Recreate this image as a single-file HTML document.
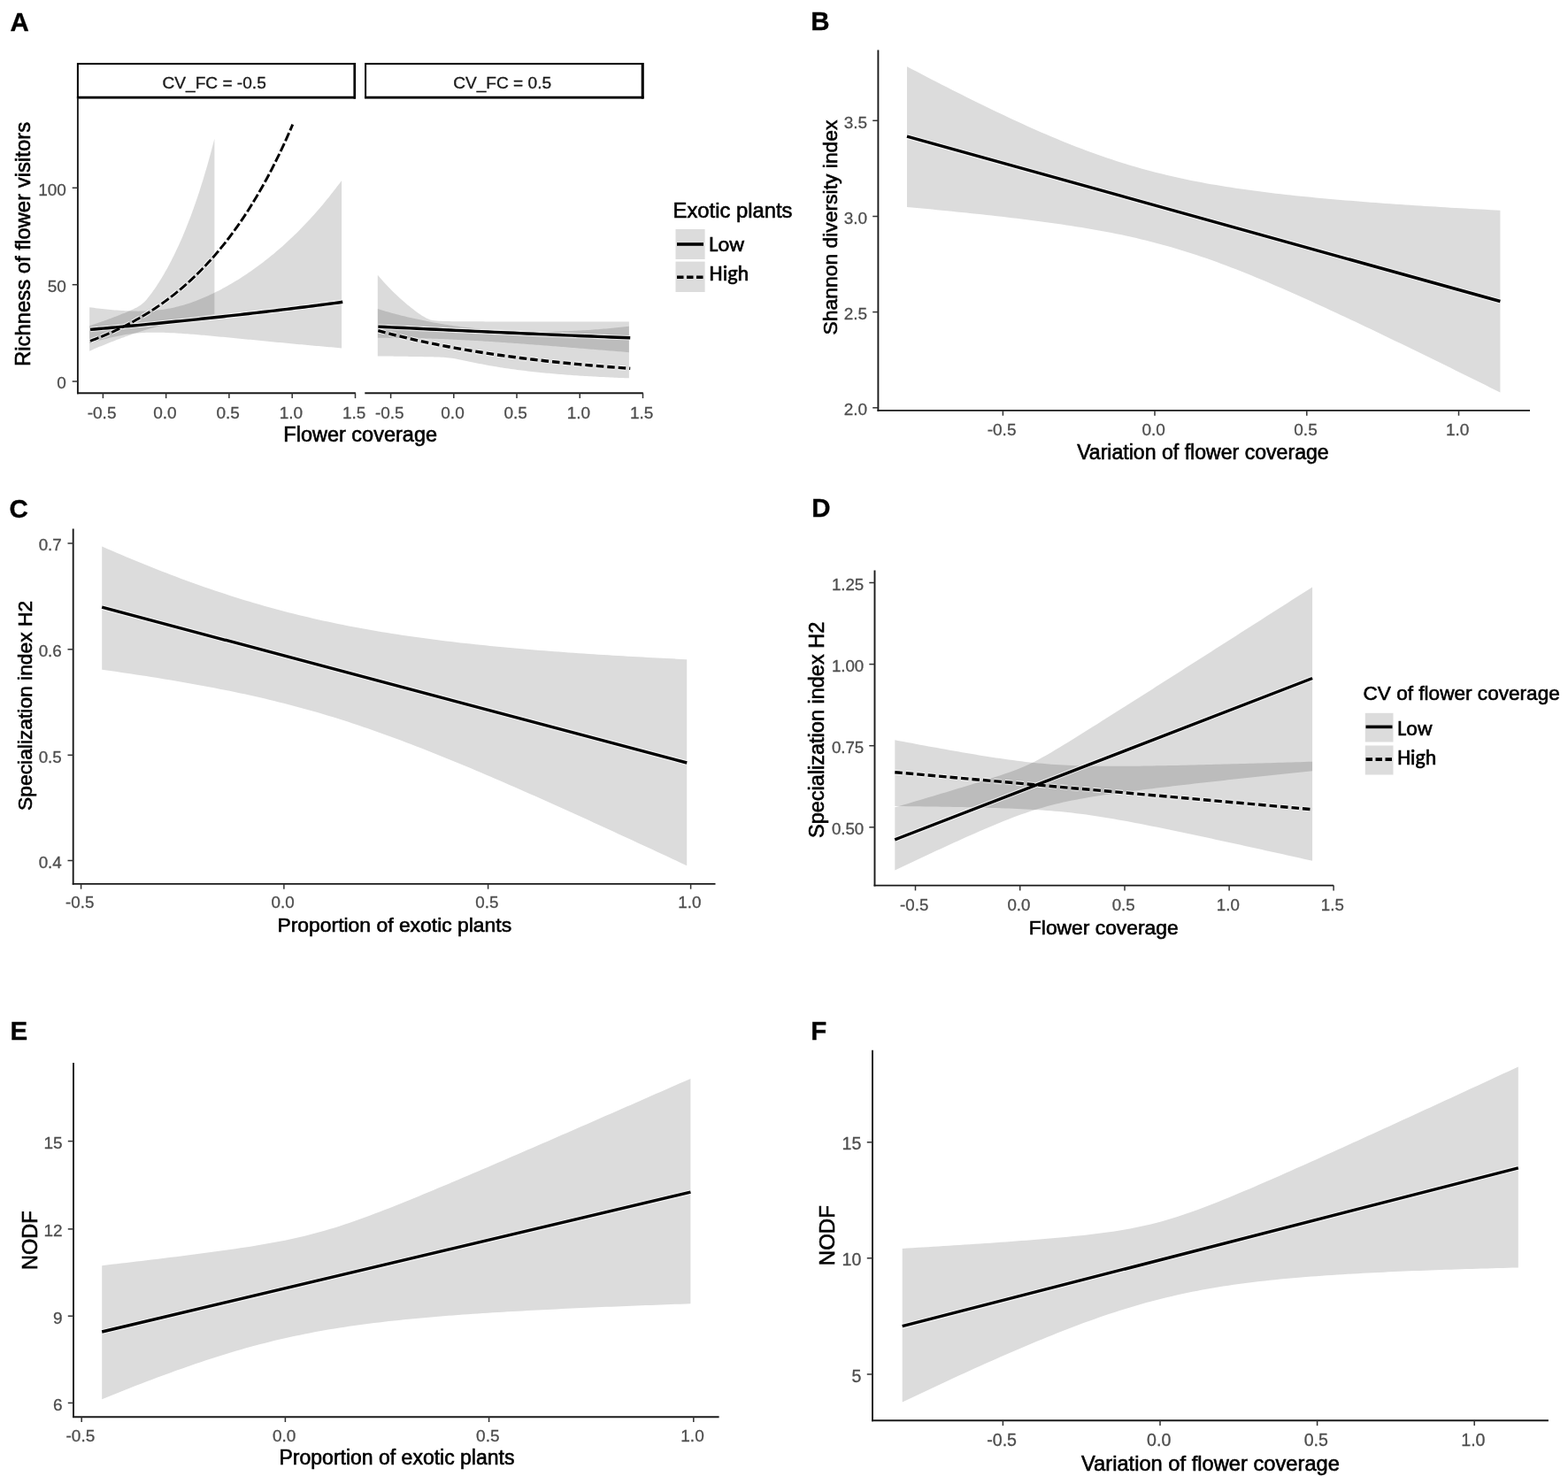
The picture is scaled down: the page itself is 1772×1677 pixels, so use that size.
<!DOCTYPE html>
<html><head><meta charset="utf-8"><title>Figure</title>
<style>html,body{margin:0;padding:0;background:#fff;} svg{display:block;}</style></head>
<body>
<svg width="1772" height="1677" viewBox="0 0 1772 1677">
<rect width="1772" height="1677" fill="#fff"/>
<text x="11.5" y="34.7" text-anchor="start" font-family="'Liberation Sans', Arial, Helvetica, sans-serif" font-size="29.5" fill="#000" font-weight="bold" stroke="#000" stroke-width="0.3">A</text>
<rect x="87.9" y="72.1" width="312.9" height="38.1" fill="#fff" stroke="#000" stroke-width="2"/>
<text x="242.15" y="100.1" text-anchor="middle" font-family="'Liberation Sans', Arial, Helvetica, sans-serif" font-size="19.1" fill="#1a1a1a" stroke="#1a1a1a" stroke-width="0.35">CV_FC = -0.5</text>
<rect x="413.1" y="72.1" width="313.5" height="38.1" fill="#fff" stroke="#000" stroke-width="2"/>
<text x="567.65" y="100.1" text-anchor="middle" font-family="'Liberation Sans', Arial, Helvetica, sans-serif" font-size="19.1" fill="#1a1a1a" stroke="#1a1a1a" stroke-width="0.35">CV_FC = 0.5</text>
<line x1="86.9" y1="110.2" x2="401.9" y2="110.2" stroke="#000" stroke-width="2.8"/>
<line x1="412.1" y1="110.2" x2="727.6" y2="110.2" stroke="#000" stroke-width="2.8"/>
<line x1="400.8" y1="71.1" x2="400.8" y2="111.6" stroke="#000" stroke-width="2.6"/>
<line x1="726.1" y1="71.1" x2="726.1" y2="111.6" stroke="#000" stroke-width="2.8"/>
<polygon points="101.1,347.25 103.49,347.57 105.89,347.87 108.28,348.17 110.68,348.45 113.07,348.73 115.47,349 117.86,349.26 120.26,349.51 122.65,349.75 125.05,349.98 127.44,350.2 129.84,350.4 132.23,350.6 134.63,350.78 137.02,350.94 139.42,351.09 141.81,351.22 144.21,351.34 146.6,351.44 149,351.52 151.39,351.57 153.79,351.61 156.18,351.63 158.58,351.62 160.97,351.59 163.37,351.53 165.76,351.45 168.16,351.34 170.55,351.19 172.95,351.02 175.34,350.82 177.74,350.58 180.13,350.31 182.53,350 184.92,349.66 187.32,349.28 189.71,348.87 192.11,348.42 194.5,347.93 196.9,347.4 199.29,346.84 201.69,346.24 204.08,345.61 206.48,344.93 208.87,344.23 211.27,343.48 213.66,342.7 216.06,341.89 218.45,341.04 220.85,340.16 223.24,339.25 225.64,338.3 228.03,337.32 230.43,336.31 232.82,335.27 235.22,334.2 237.61,333.1 240.01,331.97 242.4,330.81 244.8,329.62 247.19,328.4 249.59,327.15 251.98,325.87 254.38,324.57 256.77,323.24 259.17,321.87 261.56,320.48 263.96,319.07 266.35,317.62 268.75,316.15 271.14,314.64 273.54,313.11 275.93,311.55 278.33,309.97 280.72,308.35 283.12,306.7 285.51,305.03 287.91,303.32 290.3,301.59 292.7,299.83 295.09,298.03 297.49,296.21 299.88,294.36 302.28,292.47 304.67,290.55 307.07,288.61 309.46,286.63 311.86,284.62 314.25,282.57 316.65,280.49 319.04,278.38 321.44,276.24 323.83,274.06 326.23,271.85 328.62,269.6 331.02,267.32 333.41,265 335.81,262.64 338.2,260.25 340.6,257.82 342.99,255.36 345.39,252.85 347.78,250.31 350.18,247.73 352.57,245.1 354.97,242.44 357.36,239.74 359.76,236.99 362.15,234.21 364.55,231.38 366.94,228.5 369.34,225.59 371.73,222.63 374.13,219.62 376.52,216.57 378.92,213.47 381.31,210.33 383.71,207.14 386.1,203.9 386.1,393.39 383.71,393.19 381.31,392.98 378.92,392.78 376.52,392.57 374.13,392.36 371.73,392.15 369.34,391.94 366.94,391.73 364.55,391.52 362.15,391.31 359.76,391.09 357.36,390.88 354.97,390.66 352.57,390.45 350.18,390.23 347.78,390.01 345.39,389.79 342.99,389.57 340.6,389.35 338.2,389.13 335.81,388.91 333.41,388.69 331.02,388.46 328.62,388.24 326.23,388.01 323.83,387.79 321.44,387.56 319.04,387.34 316.65,387.11 314.25,386.88 311.86,386.65 309.46,386.42 307.07,386.19 304.67,385.96 302.28,385.73 299.88,385.5 297.49,385.27 295.09,385.03 292.7,384.8 290.3,384.57 287.91,384.34 285.51,384.1 283.12,383.87 280.72,383.64 278.33,383.4 275.93,383.17 273.54,382.94 271.14,382.7 268.75,382.47 266.35,382.24 263.96,382 261.56,381.77 259.17,381.54 256.77,381.31 254.38,381.08 251.98,380.85 249.59,380.63 247.19,380.4 244.8,380.18 242.4,379.95 240.01,379.73 237.61,379.51 235.22,379.29 232.82,379.08 230.43,378.87 228.03,378.66 225.64,378.45 223.24,378.25 220.85,378.05 218.45,377.86 216.06,377.67 213.66,377.48 211.27,377.3 208.87,377.13 206.48,376.96 204.08,376.8 201.69,376.65 199.29,376.5 196.9,376.37 194.5,376.24 192.11,376.13 189.71,376.02 187.32,375.93 184.92,375.85 182.53,375.79 180.13,375.74 177.74,375.71 175.34,375.7 172.95,375.7 170.55,375.73 168.16,375.78 165.76,375.85 163.37,375.95 160.97,376.07 158.58,376.22 156.18,376.4 153.79,376.61 151.39,376.85 149,377.12 146.6,377.42 144.21,377.75 141.81,378.12 139.42,378.51 137.02,378.94 134.63,379.4 132.23,379.88 129.84,380.39 127.44,380.93 125.05,381.49 122.65,382.07 120.26,382.67 117.86,383.29 115.47,383.93 113.07,384.58 110.68,385.23 108.28,385.9 105.89,386.58 103.49,387.26 101.1,387.94" fill="#000000" fill-opacity="0.14"/>
<polygon points="101.1,368.16 102.29,367.77 103.47,367.38 104.66,366.99 105.85,366.59 107.04,366.2 108.22,365.79 109.41,365.39 110.6,364.99 111.79,364.58 112.97,364.17 114.16,363.75 115.35,363.34 116.54,362.92 117.72,362.5 118.91,362.07 120.1,361.64 121.29,361.21 122.47,360.78 123.66,360.34 124.85,359.9 126.04,359.46 127.22,359.01 128.41,358.57 129.6,358.11 130.78,357.66 131.97,357.2 133.16,356.74 134.35,356.27 135.53,355.8 136.72,355.32 137.91,354.85 139.1,354.36 140.28,353.88 141.47,353.38 142.66,352.88 143.85,352.38 145.03,351.87 146.22,351.35 147.41,350.83 148.6,350.29 149.78,349.74 150.97,349.18 152.16,348.61 153.35,348.01 154.53,347.39 155.72,346.73 156.91,346.03 158.09,345.27 159.28,344.45 160.47,343.53 161.66,342.51 162.84,341.39 164.03,340.18 165.22,338.88 166.41,337.5 167.59,336.06 168.78,334.56 169.97,333.01 171.16,331.42 172.34,329.79 173.53,328.12 174.72,326.41 175.91,324.67 177.09,322.89 178.28,321.07 179.47,319.22 180.66,317.33 181.84,315.41 183.03,313.45 184.22,311.46 185.41,309.43 186.59,307.37 187.78,305.27 188.97,303.13 190.15,300.95 191.34,298.74 192.53,296.48 193.72,294.19 194.9,291.86 196.09,289.48 197.28,287.07 198.47,284.61 199.65,282.11 200.84,279.57 202.03,276.98 203.22,274.35 204.4,271.67 205.59,268.95 206.78,266.18 207.97,263.36 209.15,260.49 210.34,257.57 211.53,254.61 212.72,251.59 213.9,248.52 215.09,245.4 216.28,242.22 217.46,238.99 218.65,235.7 219.84,232.36 221.03,228.96 222.21,225.5 223.4,221.98 224.59,218.4 225.78,214.76 226.96,211.06 228.15,207.29 229.34,203.46 230.53,199.56 231.71,195.6 232.9,191.56 234.09,187.46 235.28,183.29 236.46,179.05 237.65,174.73 238.84,170.34 240.03,165.87 241.21,161.33 242.4,156.71 242.4,355.14 241.21,355.33 240.03,355.51 238.84,355.7 237.65,355.89 236.46,356.08 235.28,356.27 234.09,356.47 232.9,356.67 231.71,356.87 230.53,357.08 229.34,357.29 228.15,357.5 226.96,357.71 225.78,357.92 224.59,358.14 223.4,358.36 222.21,358.58 221.03,358.81 219.84,359.04 218.65,359.27 217.46,359.5 216.28,359.73 215.09,359.97 213.9,360.21 212.72,360.46 211.53,360.71 210.34,360.95 209.15,361.21 207.97,361.46 206.78,361.72 205.59,361.98 204.4,362.24 203.22,362.51 202.03,362.78 200.84,363.05 199.65,363.33 198.47,363.6 197.28,363.89 196.09,364.17 194.9,364.46 193.72,364.75 192.53,365.04 191.34,365.33 190.15,365.63 188.97,365.93 187.78,366.24 186.59,366.55 185.41,366.86 184.22,367.17 183.03,367.49 181.84,367.81 180.66,368.13 179.47,368.45 178.28,368.78 177.09,369.12 175.91,369.45 174.72,369.79 173.53,370.13 172.34,370.47 171.16,370.82 169.97,371.17 168.78,371.53 167.59,371.88 166.41,372.24 165.22,372.61 164.03,372.97 162.84,373.34 161.66,373.72 160.47,374.09 159.28,374.47 158.09,374.85 156.91,375.24 155.72,375.63 154.53,376.02 153.35,376.41 152.16,376.81 150.97,377.21 149.78,377.62 148.6,378.02 147.41,378.43 146.22,378.85 145.03,379.26 143.85,379.68 142.66,380.11 141.47,380.53 140.28,380.96 139.1,381.39 137.91,381.83 136.72,382.27 135.53,382.71 134.35,383.15 133.16,383.6 131.97,384.05 130.78,384.5 129.6,384.96 128.41,385.42 127.22,385.88 126.04,386.34 124.85,386.81 123.66,387.28 122.47,387.75 121.29,388.23 120.1,388.7 118.91,389.18 117.72,389.67 116.54,390.15 115.35,390.64 114.16,391.13 112.97,391.62 111.79,392.11 110.6,392.61 109.41,393.11 108.22,393.61 107.04,394.11 105.85,394.62 104.66,395.13 103.47,395.64 102.29,396.15 101.1,396.66" fill="#000000" fill-opacity="0.14"/>
<polyline points="102.12,372.41 106.95,371.99 111.78,371.56 116.62,371.13 121.45,370.7 126.28,370.26 131.11,369.82 135.95,369.37 140.78,368.93 145.61,368.48 150.44,368.03 155.27,367.57 160.11,367.11 164.94,366.65 169.77,366.18 174.6,365.71 179.44,365.24 184.27,364.76 189.1,364.28 193.93,363.8 198.76,363.31 203.6,362.82 208.43,362.33 213.26,361.83 218.09,361.33 222.93,360.82 227.76,360.31 232.59,359.8 237.42,359.28 242.25,358.77 247.09,358.24 251.92,357.71 256.75,357.18 261.58,356.65 266.41,356.11 271.25,355.57 276.08,355.02 280.91,354.47 285.74,353.92 290.58,353.36 295.41,352.79 300.24,352.23 305.07,351.66 309.9,351.08 314.74,350.5 319.57,349.92 324.4,349.33 329.23,348.74 334.07,348.14 338.9,347.54 343.73,346.94 348.56,346.33 353.39,345.72 358.23,345.1 363.06,344.48 367.89,343.85 372.72,343.22 377.56,342.58 382.39,341.94 387.22,341.29" fill="none" stroke="#fff" stroke-opacity="0.7" stroke-width="5.6" stroke-linejoin="round"/>
<polyline points="102.12,385.28 105.01,384.2 107.91,383.09 110.8,381.96 113.7,380.79 116.59,379.61 119.49,378.39 122.38,377.14 125.27,375.87 128.17,374.56 131.06,373.23 133.96,371.86 136.85,370.46 139.75,369.02 142.64,367.56 145.53,366.06 148.43,364.52 151.32,362.94 154.22,361.33 157.11,359.68 160.01,357.99 162.9,356.27 165.79,354.5 168.69,352.69 171.58,350.83 174.48,348.93 177.37,346.99 180.27,345 183.16,342.97 186.05,340.88 188.95,338.75 191.84,336.56 194.74,334.33 197.63,332.04 200.53,329.7 203.42,327.3 206.32,324.84 209.21,322.33 212.1,319.75 215,317.12 217.89,314.42 220.79,311.66 223.68,308.84 226.58,305.95 229.47,302.99 232.36,299.96 235.26,296.85 238.15,293.68 241.05,290.43 243.94,287.1 246.84,283.69 249.73,280.2 252.62,276.63 255.52,272.98 258.41,269.24 261.31,265.41 264.2,261.49 267.1,257.47 269.99,253.36 272.88,249.16 275.78,244.85 278.67,240.45 281.57,235.93 284.46,231.32 287.36,226.59 290.25,221.75 293.14,216.79 296.04,211.72 298.93,206.53 301.83,201.22 304.72,195.78 307.62,190.21 310.51,184.51 313.4,178.67 316.3,172.7 319.19,166.58 322.09,160.32 324.98,153.91 327.88,147.35 330.77,140.63" fill="none" stroke="#fff" stroke-opacity="0.7" stroke-width="5.1" stroke-linejoin="round" stroke-dasharray="10 3"/>
<polyline points="102.12,372.41 106.95,371.99 111.78,371.56 116.62,371.13 121.45,370.7 126.28,370.26 131.11,369.82 135.95,369.37 140.78,368.93 145.61,368.48 150.44,368.03 155.27,367.57 160.11,367.11 164.94,366.65 169.77,366.18 174.6,365.71 179.44,365.24 184.27,364.76 189.1,364.28 193.93,363.8 198.76,363.31 203.6,362.82 208.43,362.33 213.26,361.83 218.09,361.33 222.93,360.82 227.76,360.31 232.59,359.8 237.42,359.28 242.25,358.77 247.09,358.24 251.92,357.71 256.75,357.18 261.58,356.65 266.41,356.11 271.25,355.57 276.08,355.02 280.91,354.47 285.74,353.92 290.58,353.36 295.41,352.79 300.24,352.23 305.07,351.66 309.9,351.08 314.74,350.5 319.57,349.92 324.4,349.33 329.23,348.74 334.07,348.14 338.9,347.54 343.73,346.94 348.56,346.33 353.39,345.72 358.23,345.1 363.06,344.48 367.89,343.85 372.72,343.22 377.56,342.58 382.39,341.94 387.22,341.29" fill="none" stroke="#000" stroke-width="3.4" stroke-linejoin="round"/>
<polyline points="102.12,385.28 105.01,384.2 107.91,383.09 110.8,381.96 113.7,380.79 116.59,379.61 119.49,378.39 122.38,377.14 125.27,375.87 128.17,374.56 131.06,373.23 133.96,371.86 136.85,370.46 139.75,369.02 142.64,367.56 145.53,366.06 148.43,364.52 151.32,362.94 154.22,361.33 157.11,359.68 160.01,357.99 162.9,356.27 165.79,354.5 168.69,352.69 171.58,350.83 174.48,348.93 177.37,346.99 180.27,345 183.16,342.97 186.05,340.88 188.95,338.75 191.84,336.56 194.74,334.33 197.63,332.04 200.53,329.7 203.42,327.3 206.32,324.84 209.21,322.33 212.1,319.75 215,317.12 217.89,314.42 220.79,311.66 223.68,308.84 226.58,305.95 229.47,302.99 232.36,299.96 235.26,296.85 238.15,293.68 241.05,290.43 243.94,287.1 246.84,283.69 249.73,280.2 252.62,276.63 255.52,272.98 258.41,269.24 261.31,265.41 264.2,261.49 267.1,257.47 269.99,253.36 272.88,249.16 275.78,244.85 278.67,240.45 281.57,235.93 284.46,231.32 287.36,226.59 290.25,221.75 293.14,216.79 296.04,211.72 298.93,206.53 301.83,201.22 304.72,195.78 307.62,190.21 310.51,184.51 313.4,178.67 316.3,172.7 319.19,166.58 322.09,160.32 324.98,153.91 327.88,147.35 330.77,140.63" fill="none" stroke="#000" stroke-width="2.9" stroke-linejoin="round" stroke-dasharray="10 3"/>
<polygon points="426.8,310.85 429.19,313.62 431.57,316.31 433.96,318.95 436.35,321.53 438.74,324.04 441.12,326.5 443.51,328.89 445.9,331.23 448.29,333.52 450.67,335.75 453.06,337.92 455.45,340.05 457.84,342.11 460.22,344.13 462.61,346.1 465,348.01 467.39,349.86 469.77,351.66 472.16,353.4 474.55,355.07 476.94,356.65 479.32,358.12 481.71,359.44 484.1,360.55 486.48,361.39 488.87,361.96 491.26,362.34 493.65,362.58 496.03,362.75 498.42,362.87 500.81,362.96 503.2,363.03 505.58,363.08 507.97,363.12 510.36,363.16 512.75,363.19 515.13,363.21 517.52,363.23 519.91,363.25 522.3,363.27 524.68,363.28 527.07,363.3 529.46,363.31 531.85,363.32 534.23,363.33 536.62,363.34 539.01,363.35 541.39,363.36 543.78,363.36 546.17,363.37 548.56,363.38 550.94,363.38 553.33,363.39 555.72,363.39 558.11,363.4 560.49,363.4 562.88,363.41 565.27,363.41 567.66,363.42 570.04,363.42 572.43,363.42 574.82,363.43 577.21,363.43 579.59,363.44 581.98,363.44 584.37,363.44 586.76,363.45 589.14,363.45 591.53,363.45 593.92,363.45 596.31,363.46 598.69,363.46 601.08,363.46 603.47,363.47 605.85,363.47 608.24,363.47 610.63,363.47 613.02,363.48 615.4,363.48 617.79,363.48 620.18,363.48 622.57,363.48 624.95,363.49 627.34,363.49 629.73,363.49 632.12,363.49 634.5,363.5 636.89,363.5 639.28,363.5 641.67,363.5 644.05,363.5 646.44,363.51 648.83,363.51 651.22,363.51 653.6,363.51 655.99,363.51 658.38,363.51 660.76,363.52 663.15,363.52 665.54,363.52 667.93,363.52 670.31,363.52 672.7,363.53 675.09,363.53 677.48,363.53 679.86,363.53 682.25,363.53 684.64,363.53 687.03,363.54 689.41,363.54 691.8,363.54 694.19,363.54 696.58,363.54 698.96,363.54 701.35,363.55 703.74,363.55 706.13,363.55 708.51,363.55 710.9,363.55 710.9,427.34 708.51,427.25 706.13,427.16 703.74,427.07 701.35,426.97 698.96,426.88 696.58,426.77 694.19,426.67 691.8,426.57 689.41,426.46 687.03,426.35 684.64,426.23 682.25,426.12 679.86,426 677.48,425.88 675.09,425.75 672.7,425.62 670.31,425.49 667.93,425.36 665.54,425.22 663.15,425.08 660.76,424.94 658.38,424.79 655.99,424.64 653.6,424.48 651.22,424.32 648.83,424.16 646.44,423.99 644.05,423.82 641.67,423.65 639.28,423.47 636.89,423.28 634.5,423.1 632.12,422.9 629.73,422.71 627.34,422.5 624.95,422.3 622.57,422.09 620.18,421.87 617.79,421.65 615.4,421.42 613.02,421.19 610.63,420.95 608.24,420.7 605.85,420.45 603.47,420.19 601.08,419.93 598.69,419.66 596.31,419.39 593.92,419.1 591.53,418.82 589.14,418.52 586.76,418.22 584.37,417.91 581.98,417.59 579.59,417.26 577.21,416.93 574.82,416.59 572.43,416.24 570.04,415.88 567.66,415.52 565.27,415.14 562.88,414.76 560.49,414.37 558.11,413.97 555.72,413.56 553.33,413.14 550.94,412.71 548.56,412.27 546.17,411.82 543.78,411.36 541.39,410.9 539.01,410.42 536.62,409.94 534.23,409.45 531.85,408.95 529.46,408.44 527.07,407.93 524.68,407.42 522.3,406.91 519.91,406.41 517.52,405.93 515.13,405.48 512.75,405.06 510.36,404.7 507.97,404.4 505.58,404.16 503.2,403.96 500.81,403.81 498.42,403.68 496.03,403.58 493.65,403.5 491.26,403.42 488.87,403.35 486.48,403.3 484.1,403.24 481.71,403.19 479.32,403.15 476.94,403.1 474.55,403.06 472.16,403.02 469.77,402.98 467.39,402.95 465,402.91 462.61,402.88 460.22,402.84 457.84,402.81 455.45,402.78 453.06,402.74 450.67,402.71 448.29,402.68 445.9,402.65 443.51,402.62 441.12,402.59 438.74,402.56 436.35,402.53 433.96,402.5 431.57,402.47 429.19,402.44 426.8,402.41" fill="#000000" fill-opacity="0.14"/>
<polygon points="426.8,349.08 429.19,349.81 431.57,350.52 433.96,351.22 436.35,351.9 438.74,352.58 441.12,353.24 443.51,353.89 445.9,354.53 448.29,355.16 450.67,355.78 453.06,356.39 455.45,356.98 457.84,357.57 460.22,358.14 462.61,358.71 465,359.26 467.39,359.8 469.77,360.33 472.16,360.85 474.55,361.36 476.94,361.86 479.32,362.35 481.71,362.83 484.1,363.3 486.48,363.75 488.87,364.2 491.26,364.64 493.65,365.07 496.03,365.48 498.42,365.89 500.81,366.29 503.2,366.68 505.58,367.06 507.97,367.43 510.36,367.79 512.75,368.14 515.13,368.48 517.52,368.81 519.91,369.13 522.3,369.44 524.68,369.74 527.07,370.04 529.46,370.32 531.85,370.59 534.23,370.86 536.62,371.12 539.01,371.36 541.39,371.6 543.78,371.83 546.17,372.05 548.56,372.26 550.94,372.47 553.33,372.66 555.72,372.85 558.11,373.02 560.49,373.19 562.88,373.35 565.27,373.5 567.66,373.65 570.04,373.78 572.43,373.91 574.82,374.02 577.21,374.13 579.59,374.23 581.98,374.33 584.37,374.41 586.76,374.49 589.14,374.56 591.53,374.62 593.92,374.67 596.31,374.72 598.69,374.75 601.08,374.78 603.47,374.81 605.85,374.82 608.24,374.83 610.63,374.83 613.02,374.82 615.4,374.8 617.79,374.78 620.18,374.75 622.57,374.72 624.95,374.67 627.34,374.62 629.73,374.56 632.12,374.5 634.5,374.42 636.89,374.35 639.28,374.26 641.67,374.17 644.05,374.07 646.44,373.96 648.83,373.85 651.22,373.73 653.6,373.6 655.99,373.47 658.38,373.33 660.76,373.19 663.15,373.03 665.54,372.88 667.93,372.71 670.31,372.54 672.7,372.36 675.09,372.18 677.48,371.99 679.86,371.8 682.25,371.6 684.64,371.39 687.03,371.18 689.41,370.96 691.8,370.73 694.19,370.5 696.58,370.26 698.96,370.02 701.35,369.77 703.74,369.52 706.13,369.26 708.51,368.99 710.9,368.72 710.9,398.15 708.51,397.95 706.13,397.76 703.74,397.57 701.35,397.37 698.96,397.18 696.58,396.98 694.19,396.79 691.8,396.59 689.41,396.4 687.03,396.2 684.64,396.01 682.25,395.81 679.86,395.62 677.48,395.42 675.09,395.22 672.7,395.03 670.31,394.83 667.93,394.64 665.54,394.44 663.15,394.25 660.76,394.05 658.38,393.86 655.99,393.66 653.6,393.47 651.22,393.27 648.83,393.08 646.44,392.89 644.05,392.69 641.67,392.5 639.28,392.31 636.89,392.12 634.5,391.92 632.12,391.73 629.73,391.54 627.34,391.35 624.95,391.16 622.57,390.97 620.18,390.79 617.79,390.6 615.4,390.41 613.02,390.23 610.63,390.04 608.24,389.86 605.85,389.67 603.47,389.49 601.08,389.31 598.69,389.13 596.31,388.95 593.92,388.77 591.53,388.59 589.14,388.42 586.76,388.24 584.37,388.07 581.98,387.9 579.59,387.72 577.21,387.55 574.82,387.39 572.43,387.22 570.04,387.05 567.66,386.89 565.27,386.73 562.88,386.57 560.49,386.41 558.11,386.25 555.72,386.09 553.33,385.94 550.94,385.79 548.56,385.64 546.17,385.49 543.78,385.34 541.39,385.2 539.01,385.06 536.62,384.92 534.23,384.78 531.85,384.65 529.46,384.51 527.07,384.38 524.68,384.25 522.3,384.13 519.91,384.01 517.52,383.89 515.13,383.77 512.75,383.65 510.36,383.54 507.97,383.43 505.58,383.32 503.2,383.22 500.81,383.12 498.42,383.02 496.03,382.92 493.65,382.83 491.26,382.74 488.87,382.66 486.48,382.57 484.1,382.49 481.71,382.42 479.32,382.35 476.94,382.28 474.55,382.21 472.16,382.15 469.77,382.09 467.39,382.04 465,381.99 462.61,381.94 460.22,381.89 457.84,381.85 455.45,381.82 453.06,381.79 450.67,381.76 448.29,381.73 445.9,381.71 443.51,381.7 441.12,381.69 438.74,381.68 436.35,381.68 433.96,381.68 431.57,381.68 429.19,381.69 426.8,381.7" fill="#000000" fill-opacity="0.14"/>
<polyline points="427.33,369.1 434.64,369.46 441.94,369.83 449.25,370.18 456.55,370.54 463.86,370.9 471.16,371.25 478.47,371.6 485.77,371.95 493.08,372.3 500.38,372.64 507.69,372.99 514.99,373.33 522.3,373.67 529.6,374 536.91,374.34 544.21,374.67 551.52,375 558.82,375.33 566.13,375.66 573.43,375.99 580.74,376.31 588.04,376.63 595.35,376.95 602.65,377.27 609.96,377.58 617.26,377.9 624.57,378.21 631.87,378.52 639.18,378.83 646.48,379.14 653.79,379.44 661.09,379.75 668.4,380.05 675.7,380.35 683.01,380.64 690.31,380.94 697.62,381.23 704.92,381.53 712.23,381.82" fill="none" stroke="#fff" stroke-opacity="0.7" stroke-width="5.6" stroke-linejoin="round"/>
<polyline points="427.33,373.69 434.64,375.66 441.94,377.56 449.25,379.4 456.55,381.18 463.86,382.89 471.16,384.55 478.47,386.15 485.77,387.69 493.08,389.18 500.38,390.62 507.69,392.01 514.99,393.35 522.3,394.65 529.6,395.9 536.91,397.11 544.21,398.28 551.52,399.4 558.82,400.49 566.13,401.54 573.43,402.55 580.74,403.53 588.04,404.48 595.35,405.39 602.65,406.27 609.96,407.12 617.26,407.95 624.57,408.74 631.87,409.51 639.18,410.25 646.48,410.96 653.79,411.65 661.09,412.32 668.4,412.96 675.7,413.58 683.01,414.18 690.31,414.76 697.62,415.32 704.92,415.86 712.23,416.38" fill="none" stroke="#fff" stroke-opacity="0.7" stroke-width="5.6" stroke-linejoin="round" stroke-dasharray="8.5 4"/>
<polyline points="427.33,369.1 434.64,369.46 441.94,369.83 449.25,370.18 456.55,370.54 463.86,370.9 471.16,371.25 478.47,371.6 485.77,371.95 493.08,372.3 500.38,372.64 507.69,372.99 514.99,373.33 522.3,373.67 529.6,374 536.91,374.34 544.21,374.67 551.52,375 558.82,375.33 566.13,375.66 573.43,375.99 580.74,376.31 588.04,376.63 595.35,376.95 602.65,377.27 609.96,377.58 617.26,377.9 624.57,378.21 631.87,378.52 639.18,378.83 646.48,379.14 653.79,379.44 661.09,379.75 668.4,380.05 675.7,380.35 683.01,380.64 690.31,380.94 697.62,381.23 704.92,381.53 712.23,381.82" fill="none" stroke="#000" stroke-width="3.4" stroke-linejoin="round"/>
<polyline points="427.33,373.69 434.64,375.66 441.94,377.56 449.25,379.4 456.55,381.18 463.86,382.89 471.16,384.55 478.47,386.15 485.77,387.69 493.08,389.18 500.38,390.62 507.69,392.01 514.99,393.35 522.3,394.65 529.6,395.9 536.91,397.11 544.21,398.28 551.52,399.4 558.82,400.49 566.13,401.54 573.43,402.55 580.74,403.53 588.04,404.48 595.35,405.39 602.65,406.27 609.96,407.12 617.26,407.95 624.57,408.74 631.87,409.51 639.18,410.25 646.48,410.96 653.79,411.65 661.09,412.32 668.4,412.96 675.7,413.58 683.01,414.18 690.31,414.76 697.62,415.32 704.92,415.86 712.23,416.38" fill="none" stroke="#000" stroke-width="3.4" stroke-linejoin="round" stroke-dasharray="8.5 4"/>
<line x1="87.9" y1="110.5" x2="87.9" y2="445.2" stroke="#1a1a1a" stroke-width="1.9" stroke-linecap="butt"/>
<line x1="87" y1="444.3" x2="401.9" y2="444.3" stroke="#1a1a1a" stroke-width="1.9" stroke-linecap="butt"/>
<line x1="81.7" y1="431" x2="87.9" y2="431" stroke="#333333" stroke-width="1.5" stroke-linecap="butt"/>
<text x="74.86" y="439.35" text-anchor="end" font-family="'Liberation Sans', Arial, Helvetica, sans-serif" font-size="19.0" fill="#4d4d4d" stroke="#4d4d4d" stroke-width="0.3">0</text>
<line x1="81.7" y1="321.7" x2="87.9" y2="321.7" stroke="#333333" stroke-width="1.5" stroke-linecap="butt"/>
<text x="74.86" y="330.05" text-anchor="end" font-family="'Liberation Sans', Arial, Helvetica, sans-serif" font-size="19.0" fill="#4d4d4d" stroke="#4d4d4d" stroke-width="0.3">50</text>
<line x1="81.7" y1="212.3" x2="87.9" y2="212.3" stroke="#333333" stroke-width="1.5" stroke-linecap="butt"/>
<text x="74.86" y="220.65" text-anchor="end" font-family="'Liberation Sans', Arial, Helvetica, sans-serif" font-size="19.0" fill="#4d4d4d" stroke="#4d4d4d" stroke-width="0.3">100</text>
<line x1="116.4" y1="444.3" x2="116.4" y2="450.1" stroke="#333333" stroke-width="1.5" stroke-linecap="butt"/>
<text x="115.1" y="472.5" text-anchor="middle" font-family="'Liberation Sans', Arial, Helvetica, sans-serif" font-size="19.0" fill="#4d4d4d" stroke="#4d4d4d" stroke-width="0.3">-0.5</text>
<line x1="187.65" y1="444.3" x2="187.65" y2="450.1" stroke="#333333" stroke-width="1.5" stroke-linecap="butt"/>
<text x="186.35" y="472.5" text-anchor="middle" font-family="'Liberation Sans', Arial, Helvetica, sans-serif" font-size="19.0" fill="#4d4d4d" stroke="#4d4d4d" stroke-width="0.3">0.0</text>
<line x1="258.9" y1="444.3" x2="258.9" y2="450.1" stroke="#333333" stroke-width="1.5" stroke-linecap="butt"/>
<text x="257.6" y="472.5" text-anchor="middle" font-family="'Liberation Sans', Arial, Helvetica, sans-serif" font-size="19.0" fill="#4d4d4d" stroke="#4d4d4d" stroke-width="0.3">0.5</text>
<line x1="330.2" y1="444.3" x2="330.2" y2="450.1" stroke="#333333" stroke-width="1.5" stroke-linecap="butt"/>
<text x="328.9" y="472.5" text-anchor="middle" font-family="'Liberation Sans', Arial, Helvetica, sans-serif" font-size="19.0" fill="#4d4d4d" stroke="#4d4d4d" stroke-width="0.3">1.0</text>
<line x1="401.5" y1="444.3" x2="401.5" y2="450.1" stroke="#333333" stroke-width="1.5" stroke-linecap="butt"/>
<text x="400.2" y="472.5" text-anchor="middle" font-family="'Liberation Sans', Arial, Helvetica, sans-serif" font-size="19.0" fill="#4d4d4d" stroke="#4d4d4d" stroke-width="0.3">1.5</text>
<line x1="412.3" y1="444.3" x2="726.8" y2="444.3" stroke="#1a1a1a" stroke-width="1.9" stroke-linecap="butt"/>
<line x1="441.6" y1="444.3" x2="441.6" y2="450.1" stroke="#333333" stroke-width="1.5" stroke-linecap="butt"/>
<text x="440.3" y="472.5" text-anchor="middle" font-family="'Liberation Sans', Arial, Helvetica, sans-serif" font-size="19.0" fill="#4d4d4d" stroke="#4d4d4d" stroke-width="0.3">-0.5</text>
<line x1="512.8" y1="444.3" x2="512.8" y2="450.1" stroke="#333333" stroke-width="1.5" stroke-linecap="butt"/>
<text x="511.5" y="472.5" text-anchor="middle" font-family="'Liberation Sans', Arial, Helvetica, sans-serif" font-size="19.0" fill="#4d4d4d" stroke="#4d4d4d" stroke-width="0.3">0.0</text>
<line x1="584" y1="444.3" x2="584" y2="450.1" stroke="#333333" stroke-width="1.5" stroke-linecap="butt"/>
<text x="582.7" y="472.5" text-anchor="middle" font-family="'Liberation Sans', Arial, Helvetica, sans-serif" font-size="19.0" fill="#4d4d4d" stroke="#4d4d4d" stroke-width="0.3">0.5</text>
<line x1="655.25" y1="444.3" x2="655.25" y2="450.1" stroke="#333333" stroke-width="1.5" stroke-linecap="butt"/>
<text x="653.95" y="472.5" text-anchor="middle" font-family="'Liberation Sans', Arial, Helvetica, sans-serif" font-size="19.0" fill="#4d4d4d" stroke="#4d4d4d" stroke-width="0.3">1.0</text>
<line x1="726.5" y1="444.3" x2="726.5" y2="450.1" stroke="#333333" stroke-width="1.5" stroke-linecap="butt"/>
<text x="725.2" y="472.5" text-anchor="middle" font-family="'Liberation Sans', Arial, Helvetica, sans-serif" font-size="19.0" fill="#4d4d4d" stroke="#4d4d4d" stroke-width="0.3">1.5</text>
<text x="407.2" y="499.3" text-anchor="middle" font-family="'Liberation Sans', Arial, Helvetica, sans-serif" font-size="23.5" fill="#000" stroke="#000" stroke-width="0.6">Flower coverage</text>
<text transform="translate(33.6,276) rotate(-90)" text-anchor="middle" font-family="'Liberation Sans', Arial, Helvetica, sans-serif" font-size="23.9" fill="#000" stroke="#000" stroke-width="0.6">Richness of flower visitors</text>
<text x="760.6" y="245.5" text-anchor="start" font-family="'Liberation Sans', Arial, Helvetica, sans-serif" font-size="23.8" fill="#000" stroke="#000" stroke-width="0.6">Exotic plants</text>
<rect x="763.5" y="259" width="33.1" height="34" fill="#dcdcdc"/>
<rect x="763.5" y="295.6" width="33.1" height="34.4" fill="#dcdcdc"/>
<line x1="765" y1="276" x2="795" y2="276" stroke="#000" stroke-width="3.6" stroke-linecap="butt"/>
<line x1="765" y1="313.2" x2="795" y2="313.2" stroke="#000" stroke-width="3.6" stroke-linecap="butt" stroke-dasharray="7.5 3.5"/>
<text x="801.3" y="284.4" text-anchor="start" font-family="Carlito, 'Liberation Sans', sans-serif" font-size="24.2" fill="#000" textLength="40.1" lengthAdjust="spacingAndGlyphs" stroke="#000" stroke-width="0.6">Low</text>
<text x="801.6" y="317" text-anchor="start" font-family="Carlito, 'Liberation Sans', sans-serif" font-size="24.2" fill="#000" textLength="44.7" lengthAdjust="spacingAndGlyphs" stroke="#000" stroke-width="0.6">High</text>
<text x="916.3" y="33.5" text-anchor="start" font-family="'Liberation Sans', Arial, Helvetica, sans-serif" font-size="29.5" fill="#000" font-weight="bold" stroke="#000" stroke-width="0.3">B</text>
<polygon points="1025,75.2 1030.63,78.16 1036.27,81.1 1041.9,84.04 1047.53,86.97 1053.17,89.88 1058.8,92.79 1064.44,95.68 1070.07,98.55 1075.7,101.42 1081.34,104.26 1086.97,107.1 1092.6,109.92 1098.24,112.72 1103.87,115.5 1109.5,118.26 1115.14,121.01 1120.77,123.74 1126.41,126.44 1132.04,129.12 1137.67,131.78 1143.31,134.42 1148.94,137.03 1154.57,139.61 1160.21,142.16 1165.84,144.69 1171.47,147.18 1177.11,149.65 1182.74,152.08 1188.37,154.47 1194.01,156.83 1199.64,159.16 1205.28,161.44 1210.91,163.69 1216.54,165.89 1222.18,168.06 1227.81,170.18 1233.44,172.25 1239.08,174.28 1244.71,176.27 1250.34,178.21 1255.98,180.1 1261.61,181.94 1267.25,183.74 1272.88,185.48 1278.51,187.18 1284.15,188.83 1289.78,190.43 1295.41,191.98 1301.05,193.48 1306.68,194.94 1312.31,196.35 1317.95,197.72 1323.58,199.04 1329.22,200.32 1334.85,201.55 1340.48,202.75 1346.12,203.9 1351.75,205.02 1357.38,206.1 1363.02,207.14 1368.65,208.15 1374.28,209.12 1379.92,210.07 1385.55,210.98 1391.18,211.86 1396.82,212.71 1402.45,213.54 1408.09,214.34 1413.72,215.12 1419.35,215.87 1424.99,216.6 1430.62,217.31 1436.25,218 1441.89,218.67 1447.52,219.32 1453.15,219.95 1458.79,220.56 1464.42,221.16 1470.06,221.74 1475.69,222.31 1481.32,222.87 1486.96,223.41 1492.59,223.94 1498.22,224.46 1503.86,224.96 1509.49,225.45 1515.12,225.94 1520.76,226.41 1526.39,226.87 1532.03,227.33 1537.66,227.77 1543.29,228.21 1548.93,228.64 1554.56,229.06 1560.19,229.47 1565.83,229.88 1571.46,230.28 1577.09,230.67 1582.73,231.06 1588.36,231.44 1593.99,231.81 1599.63,232.18 1605.26,232.55 1610.9,232.9 1616.53,233.26 1622.16,233.61 1627.8,233.95 1633.43,234.29 1639.06,234.63 1644.7,234.96 1650.33,235.29 1655.96,235.61 1661.6,235.93 1667.23,236.25 1672.87,236.56 1678.5,236.87 1684.13,237.18 1689.77,237.48 1695.4,237.78 1695.4,443.48 1689.77,440.68 1684.13,437.88 1678.5,435.09 1672.87,432.3 1667.23,429.51 1661.6,426.73 1655.96,423.94 1650.33,421.16 1644.7,418.39 1639.06,415.62 1633.43,412.85 1627.8,410.08 1622.16,407.32 1616.53,404.56 1610.9,401.81 1605.26,399.06 1599.63,396.32 1593.99,393.58 1588.36,390.84 1582.73,388.11 1577.09,385.39 1571.46,382.67 1565.83,379.96 1560.19,377.26 1554.56,374.56 1548.93,371.87 1543.29,369.19 1537.66,366.51 1532.03,363.85 1526.39,361.19 1520.76,358.54 1515.12,355.91 1509.49,353.28 1503.86,350.67 1498.22,348.06 1492.59,345.47 1486.96,342.9 1481.32,340.33 1475.69,337.79 1470.06,335.26 1464.42,332.74 1458.79,330.25 1453.15,327.77 1447.52,325.31 1441.89,322.88 1436.25,320.46 1430.62,318.08 1424.99,315.71 1419.35,313.38 1413.72,311.07 1408.09,308.79 1402.45,306.55 1396.82,304.34 1391.18,302.16 1385.55,300.02 1379.92,297.92 1374.28,295.85 1368.65,293.83 1363.02,291.85 1357.38,289.92 1351.75,288.03 1346.12,286.19 1340.48,284.39 1334.85,282.64 1329.22,280.94 1323.58,279.29 1317.95,277.69 1312.31,276.13 1306.68,274.63 1301.05,273.17 1295.41,271.76 1289.78,270.39 1284.15,269.07 1278.51,267.79 1272.88,266.55 1267.25,265.36 1261.61,264.2 1255.98,263.08 1250.34,261.99 1244.71,260.94 1239.08,259.92 1233.44,258.93 1227.81,257.97 1222.18,257.04 1216.54,256.13 1210.91,255.25 1205.28,254.39 1199.64,253.56 1194.01,252.74 1188.37,251.95 1182.74,251.17 1177.11,250.41 1171.47,249.67 1165.84,248.94 1160.21,248.23 1154.57,247.53 1148.94,246.84 1143.31,246.16 1137.67,245.5 1132.04,244.85 1126.41,244.21 1120.77,243.58 1115.14,242.95 1109.5,242.34 1103.87,241.74 1098.24,241.14 1092.6,240.55 1086.97,239.96 1081.34,239.39 1075.7,238.82 1070.07,238.25 1064.44,237.7 1058.8,237.14 1053.17,236.6 1047.53,236.05 1041.9,235.52 1036.27,234.98 1030.63,234.45 1025,233.93" fill="#dcdcdc"/>
<polyline points="1025,154.2 1695.4,340.5" fill="none" stroke="#fff" stroke-opacity="0.7" stroke-width="5.6" stroke-linejoin="round"/>
<polyline points="1025,154.2 1695.4,340.5" fill="none" stroke="#000" stroke-width="3.4" stroke-linejoin="round"/>
<line x1="992.4" y1="56.6" x2="992.4" y2="464.8" stroke="#1a1a1a" stroke-width="1.9" stroke-linecap="butt"/>
<line x1="991.5" y1="463.9" x2="1729" y2="463.9" stroke="#1a1a1a" stroke-width="1.9" stroke-linecap="butt"/>
<line x1="986.2" y1="460.8" x2="992.4" y2="460.8" stroke="#333333" stroke-width="1.5" stroke-linecap="butt"/>
<text x="980.06" y="469.15" text-anchor="end" font-family="'Liberation Sans', Arial, Helvetica, sans-serif" font-size="19.0" fill="#4d4d4d" stroke="#4d4d4d" stroke-width="0.3">2.0</text>
<line x1="986.2" y1="352.6" x2="992.4" y2="352.6" stroke="#333333" stroke-width="1.5" stroke-linecap="butt"/>
<text x="980.06" y="360.95" text-anchor="end" font-family="'Liberation Sans', Arial, Helvetica, sans-serif" font-size="19.0" fill="#4d4d4d" stroke="#4d4d4d" stroke-width="0.3">2.5</text>
<line x1="986.2" y1="244.5" x2="992.4" y2="244.5" stroke="#333333" stroke-width="1.5" stroke-linecap="butt"/>
<text x="980.06" y="252.84" text-anchor="end" font-family="'Liberation Sans', Arial, Helvetica, sans-serif" font-size="19.0" fill="#4d4d4d" stroke="#4d4d4d" stroke-width="0.3">3.0</text>
<line x1="986.2" y1="136.3" x2="992.4" y2="136.3" stroke="#333333" stroke-width="1.5" stroke-linecap="butt"/>
<text x="980.06" y="144.65" text-anchor="end" font-family="'Liberation Sans', Arial, Helvetica, sans-serif" font-size="19.0" fill="#4d4d4d" stroke="#4d4d4d" stroke-width="0.3">3.5</text>
<line x1="1133.4" y1="463.9" x2="1133.4" y2="469.7" stroke="#333333" stroke-width="1.5" stroke-linecap="butt"/>
<text x="1132.1" y="492" text-anchor="middle" font-family="'Liberation Sans', Arial, Helvetica, sans-serif" font-size="19.0" fill="#4d4d4d" stroke="#4d4d4d" stroke-width="0.3">-0.5</text>
<line x1="1305" y1="463.9" x2="1305" y2="469.7" stroke="#333333" stroke-width="1.5" stroke-linecap="butt"/>
<text x="1303.7" y="492" text-anchor="middle" font-family="'Liberation Sans', Arial, Helvetica, sans-serif" font-size="19.0" fill="#4d4d4d" stroke="#4d4d4d" stroke-width="0.3">0.0</text>
<line x1="1476.8" y1="463.9" x2="1476.8" y2="469.7" stroke="#333333" stroke-width="1.5" stroke-linecap="butt"/>
<text x="1475.5" y="492" text-anchor="middle" font-family="'Liberation Sans', Arial, Helvetica, sans-serif" font-size="19.0" fill="#4d4d4d" stroke="#4d4d4d" stroke-width="0.3">0.5</text>
<line x1="1648.5" y1="463.9" x2="1648.5" y2="469.7" stroke="#333333" stroke-width="1.5" stroke-linecap="butt"/>
<text x="1647.2" y="492" text-anchor="middle" font-family="'Liberation Sans', Arial, Helvetica, sans-serif" font-size="19.0" fill="#4d4d4d" stroke="#4d4d4d" stroke-width="0.3">1.0</text>
<text x="1359.4" y="518.9" text-anchor="middle" font-family="'Liberation Sans', Arial, Helvetica, sans-serif" font-size="23.1" fill="#000" stroke="#000" stroke-width="0.6">Variation of flower coverage</text>
<text transform="translate(945.6,257) rotate(-90)" text-anchor="middle" font-family="'Liberation Sans', Arial, Helvetica, sans-serif" font-size="22.9" fill="#000" stroke="#000" stroke-width="0.6">Shannon diversity index</text>
<text x="10.5" y="585.3" text-anchor="start" font-family="'Liberation Sans', Arial, Helvetica, sans-serif" font-size="29.5" fill="#000" font-weight="bold" stroke="#000" stroke-width="0.3">C</text>
<polygon points="115.2,617.52 120.75,619.94 126.31,622.33 131.86,624.71 137.42,627.07 142.97,629.41 148.53,631.73 154.08,634.03 159.64,636.3 165.19,638.55 170.75,640.78 176.3,642.99 181.86,645.17 187.41,647.32 192.96,649.45 198.52,651.56 204.07,653.64 209.63,655.69 215.18,657.72 220.74,659.72 226.29,661.69 231.85,663.63 237.4,665.55 242.96,667.44 248.51,669.29 254.07,671.12 259.62,672.92 265.17,674.69 270.73,676.43 276.28,678.13 281.84,679.81 287.39,681.46 292.95,683.08 298.5,684.67 304.06,686.22 309.61,687.75 315.17,689.24 320.72,690.71 326.28,692.15 331.83,693.55 337.38,694.93 342.94,696.28 348.49,697.6 354.05,698.88 359.6,700.15 365.16,701.38 370.71,702.58 376.27,703.76 381.82,704.91 387.38,706.04 392.93,707.14 398.49,708.21 404.04,709.26 409.59,710.28 415.15,711.28 420.7,712.26 426.26,713.21 431.81,714.15 437.37,715.05 442.92,715.94 448.48,716.81 454.03,717.65 459.59,718.48 465.14,719.29 470.7,720.07 476.25,720.84 481.81,721.59 487.36,722.33 492.91,723.04 498.47,723.74 504.02,724.43 509.58,725.1 515.13,725.75 520.69,726.39 526.24,727.01 531.8,727.62 537.35,728.22 542.91,728.8 548.46,729.37 554.02,729.93 559.57,730.47 565.12,731 570.68,731.53 576.23,732.04 581.79,732.54 587.34,733.03 592.9,733.51 598.45,733.98 604.01,734.44 609.56,734.89 615.12,735.33 620.67,735.76 626.23,736.19 631.78,736.61 637.33,737.01 642.89,737.41 648.44,737.81 654,738.19 659.55,738.57 665.11,738.94 670.66,739.31 676.22,739.67 681.77,740.02 687.33,740.36 692.88,740.7 698.44,741.04 703.99,741.36 709.54,741.69 715.1,742 720.65,742.32 726.21,742.62 731.76,742.92 737.32,743.22 742.87,743.51 748.43,743.8 753.98,744.08 759.54,744.36 765.09,744.63 770.65,744.9 776.2,745.17 776.2,978.25 770.65,975.65 765.09,973.06 759.54,970.46 753.98,967.87 748.43,965.28 742.87,962.7 737.32,960.12 731.76,957.54 726.21,954.96 720.65,952.39 715.1,949.82 709.54,947.25 703.99,944.69 698.44,942.13 692.88,939.58 687.33,937.03 681.77,934.48 676.22,931.94 670.66,929.4 665.11,926.87 659.55,924.34 654,921.82 648.44,919.3 642.89,916.79 637.33,914.28 631.78,911.78 626.23,909.29 620.67,906.8 615.12,904.32 609.56,901.84 604.01,899.37 598.45,896.92 592.9,894.46 587.34,892.02 581.79,889.59 576.23,887.16 570.68,884.74 565.12,882.34 559.57,879.94 554.02,877.55 548.46,875.18 542.91,872.81 537.35,870.46 531.8,868.12 526.24,865.8 520.69,863.49 515.13,861.19 509.58,858.91 504.02,856.64 498.47,854.39 492.91,852.15 487.36,849.94 481.81,847.74 476.25,845.56 470.7,843.4 465.14,841.26 459.59,839.14 454.03,837.04 448.48,834.96 442.92,832.91 437.37,830.88 431.81,828.88 426.26,826.9 420.7,824.95 415.15,823.03 409.59,821.13 404.04,819.26 398.49,817.42 392.93,815.61 387.38,813.82 381.82,812.07 376.27,810.35 370.71,808.65 365.16,806.99 359.6,805.36 354.05,803.76 348.49,802.18 342.94,800.64 337.38,799.13 331.83,797.65 326.28,796.2 320.72,794.77 315.17,793.38 309.61,792.01 304.06,790.67 298.5,789.36 292.95,788.07 287.39,786.81 281.84,785.57 276.28,784.36 270.73,783.17 265.17,782.01 259.62,780.87 254.07,779.74 248.51,778.64 242.96,777.56 237.4,776.5 231.85,775.45 226.29,774.42 220.74,773.41 215.18,772.42 209.63,771.44 204.07,770.48 198.52,769.53 192.96,768.6 187.41,767.68 181.86,766.77 176.3,765.87 170.75,764.99 165.19,764.11 159.64,763.25 154.08,762.4 148.53,761.55 142.97,760.72 137.42,759.9 131.86,759.08 126.31,758.27 120.75,757.48 115.2,756.68" fill="#dcdcdc"/>
<polyline points="115.2,686.2 776.2,862" fill="none" stroke="#fff" stroke-opacity="0.7" stroke-width="5.6" stroke-linejoin="round"/>
<polyline points="115.2,686.2 776.2,862" fill="none" stroke="#000" stroke-width="3.4" stroke-linejoin="round"/>
<line x1="82.7" y1="597.5" x2="82.7" y2="999.8" stroke="#1a1a1a" stroke-width="1.9" stroke-linecap="butt"/>
<line x1="81.8" y1="998.9" x2="808.5" y2="998.9" stroke="#1a1a1a" stroke-width="1.9" stroke-linecap="butt"/>
<line x1="76.5" y1="972.5" x2="82.7" y2="972.5" stroke="#333333" stroke-width="1.5" stroke-linecap="butt"/>
<text x="69.75" y="980.77" text-anchor="end" font-family="'Liberation Sans', Arial, Helvetica, sans-serif" font-size="18.8" fill="#4d4d4d" stroke="#4d4d4d" stroke-width="0.3">0.4</text>
<line x1="76.5" y1="853.3" x2="82.7" y2="853.3" stroke="#333333" stroke-width="1.5" stroke-linecap="butt"/>
<text x="69.75" y="861.57" text-anchor="end" font-family="'Liberation Sans', Arial, Helvetica, sans-serif" font-size="18.8" fill="#4d4d4d" stroke="#4d4d4d" stroke-width="0.3">0.5</text>
<line x1="76.5" y1="733.8" x2="82.7" y2="733.8" stroke="#333333" stroke-width="1.5" stroke-linecap="butt"/>
<text x="69.75" y="742.07" text-anchor="end" font-family="'Liberation Sans', Arial, Helvetica, sans-serif" font-size="18.8" fill="#4d4d4d" stroke="#4d4d4d" stroke-width="0.3">0.6</text>
<line x1="76.5" y1="614" x2="82.7" y2="614" stroke="#333333" stroke-width="1.5" stroke-linecap="butt"/>
<text x="69.75" y="622.27" text-anchor="end" font-family="'Liberation Sans', Arial, Helvetica, sans-serif" font-size="18.8" fill="#4d4d4d" stroke="#4d4d4d" stroke-width="0.3">0.7</text>
<line x1="91.6" y1="998.9" x2="91.6" y2="1004.7" stroke="#333333" stroke-width="1.5" stroke-linecap="butt"/>
<text x="90.3" y="1026.4" text-anchor="middle" font-family="'Liberation Sans', Arial, Helvetica, sans-serif" font-size="18.8" fill="#4d4d4d" stroke="#4d4d4d" stroke-width="0.3">-0.5</text>
<line x1="320.9" y1="998.9" x2="320.9" y2="1004.7" stroke="#333333" stroke-width="1.5" stroke-linecap="butt"/>
<text x="319.6" y="1026.4" text-anchor="middle" font-family="'Liberation Sans', Arial, Helvetica, sans-serif" font-size="18.8" fill="#4d4d4d" stroke="#4d4d4d" stroke-width="0.3">0.0</text>
<line x1="551.6" y1="998.9" x2="551.6" y2="1004.7" stroke="#333333" stroke-width="1.5" stroke-linecap="butt"/>
<text x="550.3" y="1026.4" text-anchor="middle" font-family="'Liberation Sans', Arial, Helvetica, sans-serif" font-size="18.8" fill="#4d4d4d" stroke="#4d4d4d" stroke-width="0.3">0.5</text>
<line x1="780.6" y1="998.9" x2="780.6" y2="1004.7" stroke="#333333" stroke-width="1.5" stroke-linecap="butt"/>
<text x="779.3" y="1026.4" text-anchor="middle" font-family="'Liberation Sans', Arial, Helvetica, sans-serif" font-size="18.8" fill="#4d4d4d" stroke="#4d4d4d" stroke-width="0.3">1.0</text>
<text x="445.8" y="1052.6" text-anchor="middle" font-family="'Liberation Sans', Arial, Helvetica, sans-serif" font-size="22.9" fill="#000" stroke="#000" stroke-width="0.6">Proportion of exotic plants</text>
<text transform="translate(35.9,797.4) rotate(-90)" text-anchor="middle" font-family="'Liberation Sans', Arial, Helvetica, sans-serif" font-size="22.8" fill="#000" stroke="#000" stroke-width="0.6">Specialization index H2</text>
<text x="917.3" y="584.4" text-anchor="start" font-family="'Liberation Sans', Arial, Helvetica, sans-serif" font-size="29.5" fill="#000" font-weight="bold" stroke="#000" stroke-width="0.3">D</text>
<polygon points="1011.3,912.36 1016.07,910.95 1020.83,909.54 1025.6,908.14 1030.36,906.73 1035.13,905.32 1039.89,903.91 1044.66,902.5 1049.43,901.08 1054.19,899.67 1058.96,898.25 1063.72,896.83 1068.49,895.41 1073.25,893.98 1078.02,892.55 1082.78,891.12 1087.55,889.68 1092.32,888.23 1097.08,886.78 1101.85,885.32 1106.61,883.85 1111.38,882.37 1116.14,880.87 1120.91,879.35 1125.68,877.81 1130.44,876.24 1135.21,874.62 1139.97,872.96 1144.74,871.22 1149.5,869.4 1154.27,867.47 1159.04,865.42 1163.8,863.22 1168.57,860.88 1173.33,858.4 1178.1,855.82 1182.86,853.13 1187.63,850.38 1192.39,847.57 1197.16,844.72 1201.93,841.83 1206.69,838.92 1211.46,835.98 1216.22,833.03 1220.99,830.07 1225.75,827.1 1230.52,824.11 1235.29,821.12 1240.05,818.13 1244.82,815.12 1249.58,812.12 1254.35,809.11 1259.11,806.1 1263.88,803.08 1268.65,800.06 1273.41,797.04 1278.18,794.02 1282.94,790.99 1287.71,787.97 1292.47,784.94 1297.24,781.91 1302.01,778.88 1306.77,775.85 1311.54,772.82 1316.3,769.79 1321.07,766.75 1325.83,763.72 1330.6,760.69 1335.36,757.65 1340.13,754.62 1344.9,751.58 1349.66,748.54 1354.43,745.51 1359.19,742.47 1363.96,739.43 1368.72,736.39 1373.49,733.35 1378.26,730.32 1383.02,727.28 1387.79,724.24 1392.55,721.2 1397.32,718.16 1402.08,715.12 1406.85,712.08 1411.62,709.04 1416.38,706 1421.15,702.96 1425.91,699.91 1430.68,696.87 1435.44,693.83 1440.21,690.79 1444.97,687.75 1449.74,684.71 1454.51,681.67 1459.27,678.62 1464.04,675.58 1468.8,672.54 1473.57,669.5 1478.33,666.46 1483.1,663.41 1483.1,871.21 1478.33,871.71 1473.57,872.21 1468.8,872.72 1464.04,873.22 1459.27,873.72 1454.51,874.22 1449.74,874.73 1444.97,875.23 1440.21,875.74 1435.44,876.25 1430.68,876.75 1425.91,877.26 1421.15,877.77 1416.38,878.28 1411.62,878.79 1406.85,879.31 1402.08,879.82 1397.32,880.34 1392.55,880.86 1387.79,881.37 1383.02,881.89 1378.26,882.42 1373.49,882.94 1368.72,883.47 1363.96,884 1359.19,884.53 1354.43,885.06 1349.66,885.6 1344.9,886.13 1340.13,886.68 1335.36,887.22 1330.6,887.77 1325.83,888.32 1321.07,888.88 1316.3,889.44 1311.54,890.01 1306.77,890.58 1302.01,891.15 1297.24,891.74 1292.47,892.33 1287.71,892.93 1282.94,893.53 1278.18,894.15 1273.41,894.77 1268.65,895.41 1263.88,896.06 1259.11,896.73 1254.35,897.41 1249.58,898.1 1244.82,898.82 1240.05,899.56 1235.29,900.32 1230.52,901.11 1225.75,901.93 1220.99,902.78 1216.22,903.68 1211.46,904.61 1206.69,905.59 1201.93,906.62 1197.16,907.7 1192.39,908.84 1187.63,910.05 1182.86,911.32 1178.1,912.65 1173.33,914.06 1168.57,915.53 1163.8,917.08 1159.04,918.68 1154.27,920.35 1149.5,922.07 1144.74,923.85 1139.97,925.68 1135.21,927.56 1130.44,929.48 1125.68,931.43 1120.91,933.42 1116.14,935.43 1111.38,937.47 1106.61,939.54 1101.85,941.63 1097.08,943.74 1092.32,945.86 1087.55,948 1082.78,950.16 1078.02,952.32 1073.25,954.5 1068.49,956.69 1063.72,958.89 1058.96,961.09 1054.19,963.3 1049.43,965.52 1044.66,967.75 1039.89,969.98 1035.13,972.22 1030.36,974.46 1025.6,976.71 1020.83,978.96 1016.07,981.21 1011.3,983.47" fill="#000000" fill-opacity="0.14"/>
<polygon points="1011.3,836.3 1016.07,837.2 1020.83,838.09 1025.6,838.98 1030.36,839.87 1035.13,840.75 1039.89,841.63 1044.66,842.51 1049.43,843.38 1054.19,844.25 1058.96,845.11 1063.72,845.97 1068.49,846.82 1073.25,847.67 1078.02,848.51 1082.78,849.35 1087.55,850.17 1092.32,850.99 1097.08,851.8 1101.85,852.6 1106.61,853.38 1111.38,854.16 1116.14,854.92 1120.91,855.66 1125.68,856.39 1130.44,857.11 1135.21,857.8 1139.97,858.47 1144.74,859.12 1149.5,859.74 1154.27,860.34 1159.04,860.9 1163.8,861.44 1168.57,861.95 1173.33,862.42 1178.1,862.86 1182.86,863.27 1187.63,863.64 1192.39,863.97 1197.16,864.28 1201.93,864.55 1206.69,864.78 1211.46,864.99 1216.22,865.17 1220.99,865.33 1225.75,865.46 1230.52,865.56 1235.29,865.65 1240.05,865.72 1244.82,865.77 1249.58,865.8 1254.35,865.82 1259.11,865.82 1263.88,865.81 1268.65,865.79 1273.41,865.77 1278.18,865.73 1282.94,865.68 1287.71,865.63 1292.47,865.57 1297.24,865.5 1302.01,865.43 1306.77,865.35 1311.54,865.26 1316.3,865.18 1321.07,865.08 1325.83,864.99 1330.6,864.89 1335.36,864.78 1340.13,864.68 1344.9,864.57 1349.66,864.46 1354.43,864.34 1359.19,864.22 1363.96,864.11 1368.72,863.98 1373.49,863.86 1378.26,863.74 1383.02,863.61 1387.79,863.48 1392.55,863.35 1397.32,863.22 1402.08,863.09 1406.85,862.96 1411.62,862.82 1416.38,862.69 1421.15,862.55 1425.91,862.41 1430.68,862.28 1435.44,862.14 1440.21,862 1444.97,861.85 1449.74,861.71 1454.51,861.57 1459.27,861.43 1464.04,861.28 1468.8,861.14 1473.57,860.99 1478.33,860.85 1483.1,860.7 1483.1,972.76 1478.33,971.69 1473.57,970.63 1468.8,969.58 1464.04,968.52 1459.27,967.46 1454.51,966.4 1449.74,965.35 1444.97,964.29 1440.21,963.24 1435.44,962.18 1430.68,961.13 1425.91,960.08 1421.15,959.03 1416.38,957.99 1411.62,956.94 1406.85,955.89 1402.08,954.85 1397.32,953.81 1392.55,952.77 1387.79,951.73 1383.02,950.69 1378.26,949.66 1373.49,948.63 1368.72,947.6 1363.96,946.58 1359.19,945.55 1354.43,944.53 1349.66,943.52 1344.9,942.51 1340.13,941.5 1335.36,940.49 1330.6,939.49 1325.83,938.5 1321.07,937.51 1316.3,936.53 1311.54,935.56 1306.77,934.59 1302.01,933.63 1297.24,932.68 1292.47,931.74 1287.71,930.81 1282.94,929.9 1278.18,928.99 1273.41,928.1 1268.65,927.23 1263.88,926.38 1259.11,925.54 1254.35,924.72 1249.58,923.93 1244.82,923.16 1240.05,922.42 1235.29,921.7 1230.52,921.01 1225.75,920.36 1220.99,919.73 1216.22,919.14 1211.46,918.58 1206.69,918.06 1201.93,917.57 1197.16,917.11 1192.39,916.68 1187.63,916.28 1182.86,915.91 1178.1,915.57 1173.33,915.25 1168.57,914.96 1163.8,914.68 1159.04,914.43 1154.27,914.19 1149.5,913.97 1144.74,913.77 1139.97,913.58 1135.21,913.4 1130.44,913.24 1125.68,913.08 1120.91,912.94 1116.14,912.8 1111.38,912.67 1106.61,912.55 1101.85,912.43 1097.08,912.32 1092.32,912.22 1087.55,912.12 1082.78,912.02 1078.02,911.93 1073.25,911.84 1068.49,911.76 1063.72,911.68 1058.96,911.61 1054.19,911.53 1049.43,911.46 1044.66,911.39 1039.89,911.33 1035.13,911.26 1030.36,911.2 1025.6,911.14 1020.83,911.08 1016.07,911.03 1011.3,910.97" fill="#000000" fill-opacity="0.14"/>
<polyline points="1011.3,948.8 1483.1,766.5" fill="none" stroke="#fff" stroke-opacity="0.7" stroke-width="5.6" stroke-linejoin="round"/>
<polyline points="1011.3,872.7 1483.1,914.7" fill="none" stroke="#fff" stroke-opacity="0.7" stroke-width="5.6" stroke-linejoin="round" stroke-dasharray="8.5 4"/>
<polyline points="1011.3,948.8 1483.1,766.5" fill="none" stroke="#000" stroke-width="3.4" stroke-linejoin="round"/>
<polyline points="1011.3,872.7 1483.1,914.7" fill="none" stroke="#000" stroke-width="3.4" stroke-linejoin="round" stroke-dasharray="8.5 4"/>
<line x1="988.5" y1="644.6" x2="988.5" y2="1001.5" stroke="#1a1a1a" stroke-width="1.9" stroke-linecap="butt"/>
<line x1="987.6" y1="1000.6" x2="1507.1" y2="1000.6" stroke="#1a1a1a" stroke-width="1.9" stroke-linecap="butt"/>
<line x1="982.3" y1="934.8" x2="988.5" y2="934.8" stroke="#333333" stroke-width="1.5" stroke-linecap="butt"/>
<text x="976.25" y="943.04" text-anchor="end" font-family="'Liberation Sans', Arial, Helvetica, sans-serif" font-size="18.7" fill="#4d4d4d" stroke="#4d4d4d" stroke-width="0.3">0.50</text>
<line x1="982.3" y1="842.7" x2="988.5" y2="842.7" stroke="#333333" stroke-width="1.5" stroke-linecap="butt"/>
<text x="976.25" y="850.94" text-anchor="end" font-family="'Liberation Sans', Arial, Helvetica, sans-serif" font-size="18.7" fill="#4d4d4d" stroke="#4d4d4d" stroke-width="0.3">0.75</text>
<line x1="982.3" y1="750.6" x2="988.5" y2="750.6" stroke="#333333" stroke-width="1.5" stroke-linecap="butt"/>
<text x="976.25" y="758.84" text-anchor="end" font-family="'Liberation Sans', Arial, Helvetica, sans-serif" font-size="18.7" fill="#4d4d4d" stroke="#4d4d4d" stroke-width="0.3">1.00</text>
<line x1="982.3" y1="658.5" x2="988.5" y2="658.5" stroke="#333333" stroke-width="1.5" stroke-linecap="butt"/>
<text x="976.25" y="666.74" text-anchor="end" font-family="'Liberation Sans', Arial, Helvetica, sans-serif" font-size="18.7" fill="#4d4d4d" stroke="#4d4d4d" stroke-width="0.3">1.25</text>
<line x1="1034.5" y1="1000.6" x2="1034.5" y2="1006.4" stroke="#333333" stroke-width="1.5" stroke-linecap="butt"/>
<text x="1033.2" y="1029.3" text-anchor="middle" font-family="'Liberation Sans', Arial, Helvetica, sans-serif" font-size="18.7" fill="#4d4d4d" stroke="#4d4d4d" stroke-width="0.3">-0.5</text>
<line x1="1152.7" y1="1000.6" x2="1152.7" y2="1006.4" stroke="#333333" stroke-width="1.5" stroke-linecap="butt"/>
<text x="1151.4" y="1029.3" text-anchor="middle" font-family="'Liberation Sans', Arial, Helvetica, sans-serif" font-size="18.7" fill="#4d4d4d" stroke="#4d4d4d" stroke-width="0.3">0.0</text>
<line x1="1271" y1="1000.6" x2="1271" y2="1006.4" stroke="#333333" stroke-width="1.5" stroke-linecap="butt"/>
<text x="1269.7" y="1029.3" text-anchor="middle" font-family="'Liberation Sans', Arial, Helvetica, sans-serif" font-size="18.7" fill="#4d4d4d" stroke="#4d4d4d" stroke-width="0.3">0.5</text>
<line x1="1389.1" y1="1000.6" x2="1389.1" y2="1006.4" stroke="#333333" stroke-width="1.5" stroke-linecap="butt"/>
<text x="1387.8" y="1029.3" text-anchor="middle" font-family="'Liberation Sans', Arial, Helvetica, sans-serif" font-size="18.7" fill="#4d4d4d" stroke="#4d4d4d" stroke-width="0.3">1.0</text>
<line x1="1507.1" y1="1000.6" x2="1507.1" y2="1006.4" stroke="#333333" stroke-width="1.5" stroke-linecap="butt"/>
<text x="1505.8" y="1029.3" text-anchor="middle" font-family="'Liberation Sans', Arial, Helvetica, sans-serif" font-size="18.7" fill="#4d4d4d" stroke="#4d4d4d" stroke-width="0.3">1.5</text>
<text x="1247.3" y="1056" text-anchor="middle" font-family="'Liberation Sans', Arial, Helvetica, sans-serif" font-size="22.85" fill="#000" stroke="#000" stroke-width="0.6">Flower coverage</text>
<text transform="translate(930.9,824.9) rotate(-90)" text-anchor="middle" font-family="'Liberation Sans', Arial, Helvetica, sans-serif" font-size="23.5" fill="#000" stroke="#000" stroke-width="0.6">Specialization index H2</text>
<text x="1540.5" y="790.6" text-anchor="start" font-family="'Liberation Sans', Arial, Helvetica, sans-serif" font-size="22.6" fill="#000" stroke="#000" stroke-width="0.6">CV of flower coverage</text>
<rect x="1542.8" y="805.8" width="31.7" height="32.7" fill="#dcdcdc"/>
<rect x="1542.8" y="842.5" width="31.7" height="33" fill="#dcdcdc"/>
<line x1="1543.5" y1="821.4" x2="1573.5" y2="821.4" stroke="#000" stroke-width="3.6" stroke-linecap="butt"/>
<line x1="1543.5" y1="858.1" x2="1573.5" y2="858.1" stroke="#000" stroke-width="3.6" stroke-linecap="butt" stroke-dasharray="7.5 3.5"/>
<text x="1579.2" y="830.7" text-anchor="start" font-family="Carlito, 'Liberation Sans', sans-serif" font-size="23.8" fill="#000" textLength="39.5" lengthAdjust="spacingAndGlyphs" stroke="#000" stroke-width="0.6">Low</text>
<text x="1579.2" y="863.8" text-anchor="start" font-family="Carlito, 'Liberation Sans', sans-serif" font-size="23.8" fill="#000" textLength="44.0" lengthAdjust="spacingAndGlyphs" stroke="#000" stroke-width="0.6">High</text>
<text x="11.5" y="1174.5" text-anchor="start" font-family="'Liberation Sans', Arial, Helvetica, sans-serif" font-size="29.5" fill="#000" font-weight="bold" stroke="#000" stroke-width="0.3">E</text>
<polygon points="115.2,1430.16 120.79,1429.51 126.38,1428.87 131.97,1428.22 137.56,1427.57 143.15,1426.91 148.74,1426.25 154.33,1425.59 159.92,1424.93 165.51,1424.26 171.1,1423.59 176.69,1422.92 182.28,1422.24 187.87,1421.56 193.46,1420.87 199.05,1420.18 204.64,1419.48 210.23,1418.77 215.82,1418.06 221.41,1417.34 227,1416.61 232.59,1415.87 238.18,1415.12 243.77,1414.36 249.36,1413.59 254.95,1412.81 260.54,1412.01 266.13,1411.19 271.72,1410.36 277.31,1409.51 282.9,1408.63 288.49,1407.73 294.08,1406.81 299.67,1405.85 305.26,1404.86 310.85,1403.83 316.44,1402.76 322.03,1401.65 327.62,1400.49 333.21,1399.28 338.8,1398.01 344.39,1396.68 349.98,1395.29 355.57,1393.84 361.16,1392.33 366.75,1390.75 372.34,1389.11 377.93,1387.4 383.52,1385.63 389.11,1383.81 394.7,1381.93 400.29,1380 405.88,1378.03 411.47,1376.01 417.06,1373.95 422.65,1371.86 428.24,1369.74 433.83,1367.58 439.42,1365.4 445.01,1363.2 450.59,1360.98 456.18,1358.73 461.77,1356.47 467.36,1354.19 472.95,1351.9 478.54,1349.6 484.13,1347.28 489.72,1344.96 495.31,1342.62 500.9,1340.28 506.49,1337.93 512.08,1335.57 517.67,1333.2 523.26,1330.83 528.85,1328.45 534.44,1326.07 540.03,1323.68 545.62,1321.28 551.21,1318.89 556.8,1316.49 562.39,1314.08 567.98,1311.67 573.57,1309.26 579.16,1306.85 584.75,1304.43 590.34,1302.01 595.93,1299.59 601.52,1297.17 607.11,1294.74 612.7,1292.31 618.29,1289.88 623.88,1287.45 629.47,1285.02 635.06,1282.59 640.65,1280.15 646.24,1277.71 651.83,1275.27 657.42,1272.83 663.01,1270.39 668.6,1267.95 674.19,1265.51 679.78,1263.06 685.37,1260.62 690.96,1258.17 696.55,1255.72 702.14,1253.28 707.73,1250.83 713.32,1248.38 718.91,1245.93 724.5,1243.48 730.09,1241.03 735.68,1238.57 741.27,1236.12 746.86,1233.67 752.45,1231.21 758.04,1228.76 763.63,1226.31 769.22,1223.85 774.81,1221.39 780.4,1218.94 780.4,1473.28 774.81,1473.47 769.22,1473.67 763.63,1473.87 758.04,1474.07 752.45,1474.27 746.86,1474.47 741.27,1474.68 735.68,1474.89 730.09,1475.1 724.5,1475.31 718.91,1475.52 713.32,1475.74 707.73,1475.96 702.14,1476.18 696.55,1476.41 690.96,1476.64 685.37,1476.87 679.78,1477.11 674.19,1477.34 668.6,1477.58 663.01,1477.83 657.42,1478.08 651.83,1478.33 646.24,1478.59 640.65,1478.85 635.06,1479.11 629.47,1479.38 623.88,1479.65 618.29,1479.93 612.7,1480.21 607.11,1480.5 601.52,1480.79 595.93,1481.09 590.34,1481.39 584.75,1481.7 579.16,1482.02 573.57,1482.34 567.98,1482.67 562.39,1483.01 556.8,1483.36 551.21,1483.71 545.62,1484.07 540.03,1484.44 534.44,1484.82 528.85,1485.2 523.26,1485.6 517.67,1486.01 512.08,1486.43 506.49,1486.86 500.9,1487.3 495.31,1487.75 489.72,1488.22 484.13,1488.7 478.54,1489.19 472.95,1489.7 467.36,1490.23 461.77,1490.77 456.18,1491.33 450.59,1491.91 445.01,1492.5 439.42,1493.11 433.83,1493.75 428.24,1494.41 422.65,1495.09 417.06,1495.79 411.47,1496.51 405.88,1497.27 400.29,1498.04 394.7,1498.85 389.11,1499.68 383.52,1500.55 377.93,1501.44 372.34,1502.37 366.75,1503.33 361.16,1504.32 355.57,1505.34 349.98,1506.4 344.39,1507.5 338.8,1508.63 333.21,1509.8 327.62,1511.01 322.03,1512.26 316.44,1513.54 310.85,1514.87 305.26,1516.23 299.67,1517.63 294.08,1519.07 288.49,1520.54 282.9,1522.06 277.31,1523.61 271.72,1525.2 266.13,1526.83 260.54,1528.49 254.95,1530.19 249.36,1531.92 243.77,1533.68 238.18,1535.48 232.59,1537.31 227,1539.16 221.41,1541.05 215.82,1542.97 210.23,1544.91 204.64,1546.88 199.05,1548.87 193.46,1550.89 187.87,1552.93 182.28,1554.99 176.69,1557.07 171.1,1559.18 165.51,1561.3 159.92,1563.44 154.33,1565.6 148.74,1567.78 143.15,1569.97 137.56,1572.18 131.97,1574.4 126.38,1576.64 120.79,1578.89 115.2,1581.15" fill="#dcdcdc"/>
<polyline points="115.2,1505 780.4,1347.2" fill="none" stroke="#fff" stroke-opacity="0.7" stroke-width="5.6" stroke-linejoin="round"/>
<polyline points="115.2,1505 780.4,1347.2" fill="none" stroke="#000" stroke-width="3.4" stroke-linejoin="round"/>
<line x1="83" y1="1201" x2="83" y2="1602.1" stroke="#1a1a1a" stroke-width="1.9" stroke-linecap="butt"/>
<line x1="82.1" y1="1601.2" x2="812.6" y2="1601.2" stroke="#1a1a1a" stroke-width="1.9" stroke-linecap="butt"/>
<line x1="76.8" y1="1585.4" x2="83" y2="1585.4" stroke="#333333" stroke-width="1.5" stroke-linecap="butt"/>
<text x="70.56" y="1593.74" text-anchor="end" font-family="'Liberation Sans', Arial, Helvetica, sans-serif" font-size="19.0" fill="#4d4d4d" stroke="#4d4d4d" stroke-width="0.3">6</text>
<line x1="76.8" y1="1487.2" x2="83" y2="1487.2" stroke="#333333" stroke-width="1.5" stroke-linecap="butt"/>
<text x="70.56" y="1495.54" text-anchor="end" font-family="'Liberation Sans', Arial, Helvetica, sans-serif" font-size="19.0" fill="#4d4d4d" stroke="#4d4d4d" stroke-width="0.3">9</text>
<line x1="76.8" y1="1388.9" x2="83" y2="1388.9" stroke="#333333" stroke-width="1.5" stroke-linecap="butt"/>
<text x="70.56" y="1397.24" text-anchor="end" font-family="'Liberation Sans', Arial, Helvetica, sans-serif" font-size="19.0" fill="#4d4d4d" stroke="#4d4d4d" stroke-width="0.3">12</text>
<line x1="76.8" y1="1289.6" x2="83" y2="1289.6" stroke="#333333" stroke-width="1.5" stroke-linecap="butt"/>
<text x="70.56" y="1297.94" text-anchor="end" font-family="'Liberation Sans', Arial, Helvetica, sans-serif" font-size="19.0" fill="#4d4d4d" stroke="#4d4d4d" stroke-width="0.3">15</text>
<line x1="92.2" y1="1601.2" x2="92.2" y2="1607" stroke="#333333" stroke-width="1.5" stroke-linecap="butt"/>
<text x="90.9" y="1629.3" text-anchor="middle" font-family="'Liberation Sans', Arial, Helvetica, sans-serif" font-size="19.0" fill="#4d4d4d" stroke="#4d4d4d" stroke-width="0.3">-0.5</text>
<line x1="322.4" y1="1601.2" x2="322.4" y2="1607" stroke="#333333" stroke-width="1.5" stroke-linecap="butt"/>
<text x="321.1" y="1629.3" text-anchor="middle" font-family="'Liberation Sans', Arial, Helvetica, sans-serif" font-size="19.0" fill="#4d4d4d" stroke="#4d4d4d" stroke-width="0.3">0.0</text>
<line x1="552.6" y1="1601.2" x2="552.6" y2="1607" stroke="#333333" stroke-width="1.5" stroke-linecap="butt"/>
<text x="551.3" y="1629.3" text-anchor="middle" font-family="'Liberation Sans', Arial, Helvetica, sans-serif" font-size="19.0" fill="#4d4d4d" stroke="#4d4d4d" stroke-width="0.3">0.5</text>
<line x1="783.8" y1="1601.2" x2="783.8" y2="1607" stroke="#333333" stroke-width="1.5" stroke-linecap="butt"/>
<text x="782.5" y="1629.3" text-anchor="middle" font-family="'Liberation Sans', Arial, Helvetica, sans-serif" font-size="19.0" fill="#4d4d4d" stroke="#4d4d4d" stroke-width="0.3">1.0</text>
<text x="448.5" y="1655.2" text-anchor="middle" font-family="'Liberation Sans', Arial, Helvetica, sans-serif" font-size="23.0" fill="#000" stroke="#000" stroke-width="0.6">Proportion of exotic plants</text>
<text transform="translate(42.2,1401.7) rotate(-90)" text-anchor="middle" font-family="'Liberation Sans', Arial, Helvetica, sans-serif" font-size="23.5" fill="#000" stroke="#000" stroke-width="0.6">NODF</text>
<text x="916.3" y="1175.4" text-anchor="start" font-family="'Liberation Sans', Arial, Helvetica, sans-serif" font-size="29.5" fill="#000" font-weight="bold" stroke="#000" stroke-width="0.3">F</text>
<polygon points="1019.7,1410.91 1025.55,1410.56 1031.4,1410.21 1037.25,1409.85 1043.1,1409.5 1048.95,1409.14 1054.8,1408.78 1060.65,1408.42 1066.5,1408.05 1072.35,1407.69 1078.2,1407.32 1084.05,1406.94 1089.89,1406.57 1095.74,1406.19 1101.59,1405.8 1107.44,1405.41 1113.29,1405.02 1119.14,1404.63 1124.99,1404.22 1130.84,1403.82 1136.69,1403.4 1142.54,1402.98 1148.39,1402.55 1154.24,1402.12 1160.09,1401.67 1165.94,1401.22 1171.79,1400.76 1177.64,1400.28 1183.49,1399.8 1189.34,1399.29 1195.19,1398.78 1201.04,1398.24 1206.89,1397.69 1212.74,1397.12 1218.59,1396.52 1224.44,1395.9 1230.28,1395.24 1236.13,1394.55 1241.98,1393.83 1247.83,1393.06 1253.68,1392.25 1259.53,1391.39 1265.38,1390.47 1271.23,1389.48 1277.08,1388.43 1282.93,1387.3 1288.78,1386.1 1294.63,1384.81 1300.48,1383.43 1306.33,1381.95 1312.18,1380.39 1318.03,1378.74 1323.88,1377 1329.73,1375.18 1335.58,1373.27 1341.43,1371.29 1347.28,1369.24 1353.13,1367.13 1358.98,1364.96 1364.83,1362.74 1370.67,1360.47 1376.52,1358.16 1382.37,1355.81 1388.22,1353.43 1394.07,1351.02 1399.92,1348.58 1405.77,1346.12 1411.62,1343.64 1417.47,1341.13 1423.32,1338.61 1429.17,1336.08 1435.02,1333.53 1440.87,1330.97 1446.72,1328.4 1452.57,1325.81 1458.42,1323.22 1464.27,1320.62 1470.12,1318.01 1475.97,1315.39 1481.82,1312.77 1487.67,1310.14 1493.52,1307.51 1499.37,1304.87 1505.22,1302.23 1511.06,1299.58 1516.91,1296.92 1522.76,1294.27 1528.61,1291.61 1534.46,1288.94 1540.31,1286.28 1546.16,1283.61 1552.01,1280.94 1557.86,1278.26 1563.71,1275.59 1569.56,1272.91 1575.41,1270.23 1581.26,1267.54 1587.11,1264.86 1592.96,1262.17 1598.81,1259.48 1604.66,1256.79 1610.51,1254.1 1616.36,1251.41 1622.21,1248.72 1628.06,1246.02 1633.91,1243.33 1639.76,1240.63 1645.61,1237.93 1651.45,1235.23 1657.3,1232.53 1663.15,1229.83 1669,1227.13 1674.85,1224.42 1680.7,1221.72 1686.55,1219.02 1692.4,1216.31 1698.25,1213.6 1704.1,1210.9 1709.95,1208.19 1715.8,1205.48 1715.8,1432.45 1709.95,1432.6 1704.1,1432.75 1698.25,1432.9 1692.4,1433.06 1686.55,1433.22 1680.7,1433.38 1674.85,1433.54 1669,1433.71 1663.15,1433.89 1657.3,1434.07 1651.45,1434.25 1645.61,1434.43 1639.76,1434.63 1633.91,1434.82 1628.06,1435.02 1622.21,1435.23 1616.36,1435.44 1610.51,1435.66 1604.66,1435.88 1598.81,1436.11 1592.96,1436.34 1587.11,1436.59 1581.26,1436.84 1575.41,1437.09 1569.56,1437.36 1563.71,1437.63 1557.86,1437.91 1552.01,1438.2 1546.16,1438.5 1540.31,1438.81 1534.46,1439.13 1528.61,1439.46 1522.76,1439.81 1516.91,1440.16 1511.06,1440.53 1505.22,1440.91 1499.37,1441.3 1493.52,1441.71 1487.67,1442.14 1481.82,1442.58 1475.97,1443.04 1470.12,1443.51 1464.27,1444.01 1458.42,1444.53 1452.57,1445.06 1446.72,1445.62 1440.87,1446.2 1435.02,1446.81 1429.17,1447.44 1423.32,1448.1 1417.47,1448.79 1411.62,1449.51 1405.77,1450.26 1399.92,1451.05 1394.07,1451.86 1388.22,1452.72 1382.37,1453.61 1376.52,1454.54 1370.67,1455.51 1364.83,1456.52 1358.98,1457.57 1353.13,1458.67 1347.28,1459.82 1341.43,1461.01 1335.58,1462.25 1329.73,1463.54 1323.88,1464.88 1318.03,1466.27 1312.18,1467.7 1306.33,1469.19 1300.48,1470.73 1294.63,1472.32 1288.78,1473.97 1282.93,1475.66 1277.08,1477.4 1271.23,1479.19 1265.38,1481.02 1259.53,1482.91 1253.68,1484.83 1247.83,1486.81 1241.98,1488.82 1236.13,1490.88 1230.28,1492.98 1224.44,1495.11 1218.59,1497.28 1212.74,1499.49 1206.89,1501.73 1201.04,1504 1195.19,1506.31 1189.34,1508.64 1183.49,1511 1177.64,1513.39 1171.79,1515.81 1165.94,1518.25 1160.09,1520.71 1154.24,1523.19 1148.39,1525.7 1142.54,1528.22 1136.69,1530.77 1130.84,1533.33 1124.99,1535.91 1119.14,1538.5 1113.29,1541.11 1107.44,1543.74 1101.59,1546.37 1095.74,1549.03 1089.89,1551.69 1084.05,1554.36 1078.2,1557.05 1072.35,1559.75 1066.5,1562.46 1060.65,1565.17 1054.8,1567.9 1048.95,1570.64 1043.1,1573.38 1037.25,1576.13 1031.4,1578.89 1025.55,1581.66 1019.7,1584.44" fill="#dcdcdc"/>
<polyline points="1019.7,1498.7 1715.8,1319.8" fill="none" stroke="#fff" stroke-opacity="0.7" stroke-width="5.6" stroke-linejoin="round"/>
<polyline points="1019.7,1498.7 1715.8,1319.8" fill="none" stroke="#000" stroke-width="3.4" stroke-linejoin="round"/>
<line x1="986" y1="1186.8" x2="986" y2="1606.2" stroke="#1a1a1a" stroke-width="1.9" stroke-linecap="butt"/>
<line x1="985.1" y1="1605.3" x2="1749.9" y2="1605.3" stroke="#1a1a1a" stroke-width="1.9" stroke-linecap="butt"/>
<line x1="979.8" y1="1553" x2="986" y2="1553" stroke="#333333" stroke-width="1.5" stroke-linecap="butt"/>
<text x="973.38" y="1561.56" text-anchor="end" font-family="'Liberation Sans', Arial, Helvetica, sans-serif" font-size="19.6" fill="#4d4d4d" stroke="#4d4d4d" stroke-width="0.3">5</text>
<line x1="979.8" y1="1421.8" x2="986" y2="1421.8" stroke="#333333" stroke-width="1.5" stroke-linecap="butt"/>
<text x="973.38" y="1430.36" text-anchor="end" font-family="'Liberation Sans', Arial, Helvetica, sans-serif" font-size="19.6" fill="#4d4d4d" stroke="#4d4d4d" stroke-width="0.3">10</text>
<line x1="979.8" y1="1290.8" x2="986" y2="1290.8" stroke="#333333" stroke-width="1.5" stroke-linecap="butt"/>
<text x="973.38" y="1299.36" text-anchor="end" font-family="'Liberation Sans', Arial, Helvetica, sans-serif" font-size="19.6" fill="#4d4d4d" stroke="#4d4d4d" stroke-width="0.3">15</text>
<line x1="1133.4" y1="1605.3" x2="1133.4" y2="1611.1" stroke="#333333" stroke-width="1.5" stroke-linecap="butt"/>
<text x="1132.1" y="1634.4" text-anchor="middle" font-family="'Liberation Sans', Arial, Helvetica, sans-serif" font-size="19.6" fill="#4d4d4d" stroke="#4d4d4d" stroke-width="0.3">-0.5</text>
<line x1="1311" y1="1605.3" x2="1311" y2="1611.1" stroke="#333333" stroke-width="1.5" stroke-linecap="butt"/>
<text x="1309.7" y="1634.4" text-anchor="middle" font-family="'Liberation Sans', Arial, Helvetica, sans-serif" font-size="19.6" fill="#4d4d4d" stroke="#4d4d4d" stroke-width="0.3">0.0</text>
<line x1="1488.6" y1="1605.3" x2="1488.6" y2="1611.1" stroke="#333333" stroke-width="1.5" stroke-linecap="butt"/>
<text x="1487.3" y="1634.4" text-anchor="middle" font-family="'Liberation Sans', Arial, Helvetica, sans-serif" font-size="19.6" fill="#4d4d4d" stroke="#4d4d4d" stroke-width="0.3">0.5</text>
<line x1="1666.2" y1="1605.3" x2="1666.2" y2="1611.1" stroke="#333333" stroke-width="1.5" stroke-linecap="butt"/>
<text x="1664.9" y="1634.4" text-anchor="middle" font-family="'Liberation Sans', Arial, Helvetica, sans-serif" font-size="19.6" fill="#4d4d4d" stroke="#4d4d4d" stroke-width="0.3">1.0</text>
<text x="1368" y="1662.1" text-anchor="middle" font-family="'Liberation Sans', Arial, Helvetica, sans-serif" font-size="23.7" fill="#000" stroke="#000" stroke-width="0.6">Variation of flower coverage</text>
<text transform="translate(943.1,1396.2) rotate(-90)" text-anchor="middle" font-family="'Liberation Sans', Arial, Helvetica, sans-serif" font-size="24.0" fill="#000" stroke="#000" stroke-width="0.6">NODF</text>
</svg>
</body></html>
